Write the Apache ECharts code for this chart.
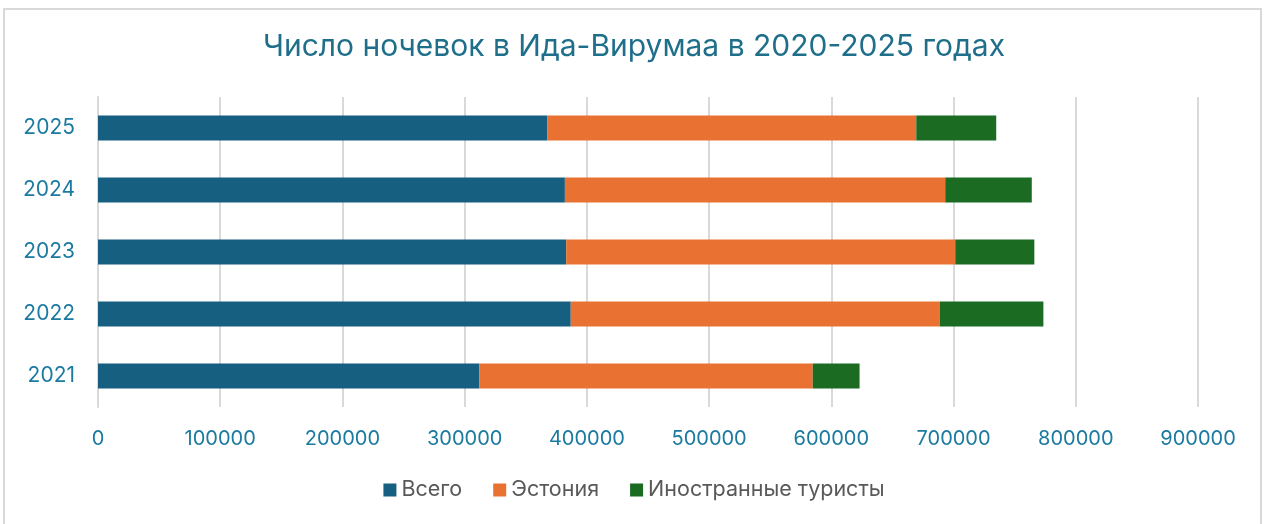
<!DOCTYPE html>
<html>
<head>
<meta charset="utf-8">
<script src="https://cdn.jsdelivr.net/npm/echarts@6/dist/echarts.min.js"></script>
<style>
  html, body { margin: 0; padding: 0; background: #fff; }
  #frame { position: absolute; left: 3px; top: 8px; width: 1259px; height: 530px; border: 2px solid #d9d9d9; box-sizing: border-box; }
  #main { width: 1268px; height: 524px; }
</style>
</head>
<body>
<div id="frame"></div>
<div id="main"></div>
<script>
// данные графика
const years = ['2021', '2022', '2023', '2024', '2025'];
const total = [311900, 386800, 383100, 382000, 367500];      // Всего
const estonia = [272900, 302000, 318300, 311200, 302000];    // Эстония
const foreign = [38300, 84700, 64700, 70800, 65400];         // Иностранные туристы
const seriesNames = ['Всего', 'Эстония', 'Иностранные туристы'];
const colors = ['#175f80', '#e97132', '#1b6b23'];

const font = 'Inter, "Noto Sans", sans-serif';
const chart = echarts.init(document.getElementById('main'), null, { renderer: 'canvas' });

const option = {
  animation: false,
  color: colors,
  textStyle: { fontFamily: font },
  title: {
    text: 'Число ночевок в Ида-Вирумаа в 2020-2025 годах',
    left: 'center',
    top: 27,
    textStyle: { color: '#1f6f8b', fontSize: 30, fontWeight: 'normal', fontFamily: font }
  },
  legend: {
    bottom: 18,
    left: 'center',
    itemWidth: 13,
    itemHeight: 13,
    itemGap: 31,
    icon: 'rect',
    textStyle: { color: '#595959', fontSize: 21.5, fontFamily: font },
    data: seriesNames
  },
  grid: { left: 98, right: 70, top: 97, bottom: 117, containLabel: false },
  xAxis: {
    type: 'value',
    min: 0,
    max: 900000,
    interval: 100000,
    axisLine: { show: false },
    axisTick: { show: false },
    splitLine: { lineStyle: { color: '#d9d9d9', width: 2 } },
    axisLabel: { color: '#1a7aa0', fontSize: 20, margin: 22, fontFamily: font, formatter: v => String(v) }
  },
  yAxis: {
    type: 'category',
    data: years,
    axisLine: { show: true, lineStyle: { color: '#d9d9d9', width: 2 } },
    axisTick: { show: false },
    axisLabel: { color: '#1a7aa0', fontSize: 21, margin: 23, fontFamily: font }
  },
  series: [
    { name: seriesNames[0], type: 'bar', stack: 'all', data: total, barWidth: 25 },
    { name: seriesNames[1], type: 'bar', stack: 'all', data: estonia, barWidth: 25 },
    { name: seriesNames[2], type: 'bar', stack: 'all', data: foreign, barWidth: 25 }
  ]
};

chart.setOption(option);
</script>
</body>
</html>
